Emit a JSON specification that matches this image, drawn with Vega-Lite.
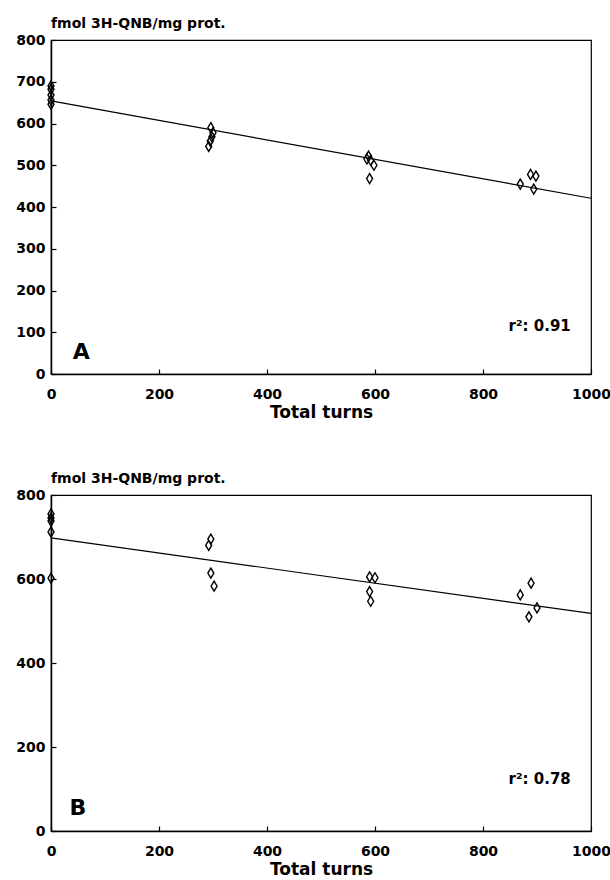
{
  "$schema": "https://vega.github.io/schema/vega-lite/v6.json",
  "padding": {"left": 15, "top": 16, "right": 0, "bottom": 0},
  "spacing": 50,
  "background": "white",
  "config": {
    "font": "DejaVu Sans",
    "view": {"stroke": "black", "strokeWidth": 1.2},
    "axis": {
      "domainColor": "black", "domainWidth": 1.5,
      "tickColor": "black", "tickSize": -5, "tickWidth": 1.2,
      "labelColor": "black", "labelFont": "DejaVu Sans", "labelFontWeight": "bold", "labelFontSize": 14,
      "titleColor": "black", "titleFont": "DejaVu Sans", "titleFontWeight": "bold", "titleFontSize": 17,
      "grid": false, "format": "d", "labelFlush": false
    },
    "title": {"color": "black", "font": "DejaVu Sans", "fontSize": 14, "fontWeight": "bold", "anchor": "start", "frame": "group", "offset": 2}
  },
  "datasets": {
    "ptsA": [
      {"turns": 0, "binding": 690}, {"turns": 0, "binding": 682}, {"turns": 0, "binding": 668}, {"turns": 0, "binding": 656}, {"turns": 0, "binding": 646},
      {"turns": 292, "binding": 545}, {"turns": 295, "binding": 558}, {"turns": 298, "binding": 568}, {"turns": 300, "binding": 578}, {"turns": 296, "binding": 590},
      {"turns": 585, "binding": 515}, {"turns": 588, "binding": 522}, {"turns": 592, "binding": 512}, {"turns": 598, "binding": 500}, {"turns": 590, "binding": 468},
      {"turns": 869, "binding": 455}, {"turns": 888, "binding": 478}, {"turns": 898, "binding": 474}, {"turns": 894, "binding": 443}
    ],
    "ptsB": [
      {"turns": 0, "binding": 755}, {"turns": 0, "binding": 745}, {"turns": 0, "binding": 738}, {"turns": 0, "binding": 712}, {"turns": 0, "binding": 602},
      {"turns": 292, "binding": 680}, {"turns": 296, "binding": 695}, {"turns": 296, "binding": 614}, {"turns": 302, "binding": 583},
      {"turns": 590, "binding": 605}, {"turns": 600, "binding": 603}, {"turns": 590, "binding": 570}, {"turns": 592, "binding": 547},
      {"turns": 869, "binding": 562}, {"turns": 889, "binding": 590}, {"turns": 900, "binding": 531}, {"turns": 885, "binding": 510}
    ],
    "fitA": [{"t0": 0, "v0": 654, "t1": 1000, "v1": 421}],
    "fitB": [{"t0": 0, "v0": 698, "t1": 1000, "v1": 518}],
    "labA": [{"turns": 56, "binding": 53, "label": "A"}],
    "labB": [{"turns": 50, "binding": 55, "label": "B"}],
    "rA": [{"turns": 905, "binding": 115, "label": "r²: 0.91"}],
    "rB": [{"turns": 905, "binding": 125, "label": "r²: 0.78"}]
  },
  "vconcat": [
    {
      "width": 540, "height": 334,
      "title": {"text": "fmol 3H-QNB/mg prot."},
      "layer": [
        {
          "data": {"name": "fitA"},
          "mark": {"type": "rule", "color": "black", "strokeWidth": 1.2},
          "encoding": {
            "x": {"field": "t0", "type": "quantitative", "scale": {"domain": [0, 1000]}, "axis": {"values": [0, 200, 400, 600, 800, 1000], "title": "Total turns", "labelPadding": 18, "titlePadding": 3}},
            "y": {"field": "v0", "type": "quantitative", "scale": {"domain": [0, 800]}, "axis": {"values": [0, 100, 200, 300, 400, 500, 600, 700, 800], "title": null, "labelPadding": 11}},
            "x2": {"field": "t1"},
            "y2": {"field": "v1"}
          }
        },
        {
          "data": {"name": "ptsA"},
          "mark": {"type": "point", "shape": "M0,-1L0.6,0L0,1L-0.6,0Z", "filled": false, "stroke": "black", "strokeWidth": 1.4, "size": 100, "opacity": 1},
          "encoding": {
            "x": {"field": "turns", "type": "quantitative"},
            "y": {"field": "binding", "type": "quantitative"}
          }
        },
        {
          "data": {"name": "labA"},
          "mark": {"type": "text", "fontSize": 22, "fontWeight": "bold", "color": "black", "font": "DejaVu Sans"},
          "encoding": {
            "x": {"field": "turns", "type": "quantitative"},
            "y": {"field": "binding", "type": "quantitative"},
            "text": {"field": "label"}
          }
        },
        {
          "data": {"name": "rA"},
          "mark": {"type": "text", "fontSize": 15, "fontWeight": "bold", "color": "black", "font": "DejaVu Sans"},
          "encoding": {
            "x": {"field": "turns", "type": "quantitative"},
            "y": {"field": "binding", "type": "quantitative"},
            "text": {"field": "label"}
          }
        }
      ]
    },
    {
      "width": 540, "height": 336,
      "title": {"text": "fmol 3H-QNB/mg prot."},
      "layer": [
        {
          "data": {"name": "fitB"},
          "mark": {"type": "rule", "color": "black", "strokeWidth": 1.2},
          "encoding": {
            "x": {"field": "t0", "type": "quantitative", "scale": {"domain": [0, 1000]}, "axis": {"values": [0, 200, 400, 600, 800, 1000], "title": "Total turns", "labelPadding": 18, "titlePadding": 3}},
            "y": {"field": "v0", "type": "quantitative", "scale": {"domain": [0, 800]}, "axis": {"values": [0, 200, 400, 600, 800], "title": null, "labelPadding": 11}},
            "x2": {"field": "t1"},
            "y2": {"field": "v1"}
          }
        },
        {
          "data": {"name": "ptsB"},
          "mark": {"type": "point", "shape": "M0,-1L0.6,0L0,1L-0.6,0Z", "filled": false, "stroke": "black", "strokeWidth": 1.4, "size": 100, "opacity": 1},
          "encoding": {
            "x": {"field": "turns", "type": "quantitative"},
            "y": {"field": "binding", "type": "quantitative"}
          }
        },
        {
          "data": {"name": "labB"},
          "mark": {"type": "text", "fontSize": 22, "fontWeight": "bold", "color": "black", "font": "DejaVu Sans"},
          "encoding": {
            "x": {"field": "turns", "type": "quantitative"},
            "y": {"field": "binding", "type": "quantitative"},
            "text": {"field": "label"}
          }
        },
        {
          "data": {"name": "rB"},
          "mark": {"type": "text", "fontSize": 15, "fontWeight": "bold", "color": "black", "font": "DejaVu Sans"},
          "encoding": {
            "x": {"field": "turns", "type": "quantitative"},
            "y": {"field": "binding", "type": "quantitative"},
            "text": {"field": "label"}
          }
        }
      ]
    }
  ]
}
